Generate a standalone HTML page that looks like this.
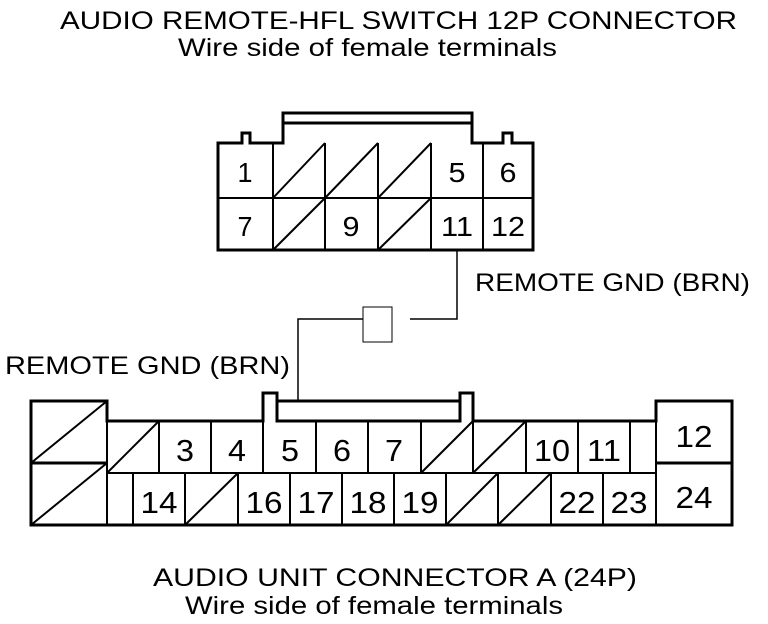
<!DOCTYPE html>
<html><head><meta charset="utf-8"><style>
html,body{margin:0;padding:0;background:#fff;}
svg{display:block;}
text{font-family:"Liberation Sans",Arial,sans-serif;fill:#000;}
</style></head><body>
<svg width="768" height="624" viewBox="0 0 768 624" xmlns="http://www.w3.org/2000/svg">
<g font-size="25">
<text x="60" y="29" textLength="677" lengthAdjust="spacingAndGlyphs">AUDIO REMOTE-HFL SWITCH 12P CONNECTOR</text>
<text x="178" y="56" textLength="379" lengthAdjust="spacingAndGlyphs">Wire side of female terminals</text>
<text x="475" y="291" textLength="275" lengthAdjust="spacingAndGlyphs">REMOTE GND (BRN)</text>
<text x="5" y="374" textLength="285" lengthAdjust="spacingAndGlyphs">REMOTE GND (BRN)</text>
<text x="153" y="586" textLength="484" lengthAdjust="spacingAndGlyphs">AUDIO UNIT CONNECTOR A (24P)</text>
<text x="185" y="614" textLength="378" lengthAdjust="spacingAndGlyphs">Wire side of female terminals</text>
</g>
<g fill="none" stroke="#000" stroke-width="2">
<!-- top connector -->
<path d="M218,143 H242 V133 H250 V143 H283 V113 H472 V143 H503 V133 H512 V143 H533 V250 H218 Z" stroke-width="3"/>
<line x1="283" y1="123" x2="472" y2="123" stroke-width="3"/>
<line x1="218" y1="198" x2="533" y2="198"/>
<line x1="273" y1="143" x2="273" y2="250"/>
<line x1="325" y1="143" x2="325" y2="250"/>
<line x1="378" y1="143" x2="378" y2="250"/>
<line x1="431" y1="143" x2="431" y2="250"/>
<line x1="483" y1="143" x2="483" y2="250"/>
<line x1="273" y1="198" x2="325" y2="143"/>
<line x1="325" y1="198" x2="378" y2="143"/>
<line x1="378" y1="198" x2="431" y2="143"/>
<line x1="273" y1="250" x2="325" y2="198"/>
<line x1="378" y1="250" x2="431" y2="198"/>
<!-- wire -->
<polyline points="457,250 457,319 410,319" stroke-width="1.5"/>
<polyline points="363,319 298,319 298,401" stroke-width="1.5"/>
<rect x="363" y="307" width="29" height="35" stroke-width="1"/>
<!-- bottom connector -->
<path d="M31,401 H107 V421 H263 V393 H277 V421 H460 V393 H473 V421 H656 V401 H732 V525 H31 Z" stroke-width="3"/>
<line x1="277" y1="401" x2="460" y2="401" stroke-width="3"/>
<line x1="31" y1="463" x2="107" y2="463" stroke-width="3"/>
<line x1="656" y1="463" x2="732" y2="463" stroke-width="3"/>
<line x1="107" y1="401" x2="107" y2="525"/>
<line x1="656" y1="401" x2="656" y2="525"/>
<line x1="31" y1="463" x2="107" y2="401"/>
<line x1="31" y1="525" x2="107" y2="463"/>
<line x1="107" y1="473" x2="656" y2="473"/>
<!-- top row -->
<line x1="159" y1="421" x2="159" y2="473"/>
<line x1="211" y1="421" x2="211" y2="473"/>
<line x1="263" y1="421" x2="263" y2="473"/>
<line x1="316" y1="421" x2="316" y2="473"/>
<line x1="368" y1="421" x2="368" y2="473"/>
<line x1="421" y1="421" x2="421" y2="473"/>
<line x1="473" y1="421" x2="473" y2="473"/>
<line x1="526" y1="421" x2="526" y2="473"/>
<line x1="578" y1="421" x2="578" y2="473"/>
<line x1="630" y1="421" x2="630" y2="473"/>
<line x1="107" y1="473" x2="159" y2="421"/>
<line x1="421" y1="473" x2="473" y2="421"/>
<line x1="473" y1="473" x2="526" y2="421"/>
<!-- bottom row -->
<line x1="133" y1="473" x2="133" y2="525"/>
<line x1="185" y1="473" x2="185" y2="525"/>
<line x1="238" y1="473" x2="238" y2="525"/>
<line x1="290" y1="473" x2="290" y2="525"/>
<line x1="342" y1="473" x2="342" y2="525"/>
<line x1="394" y1="473" x2="394" y2="525"/>
<line x1="446" y1="473" x2="446" y2="525"/>
<line x1="498" y1="473" x2="498" y2="525"/>
<line x1="551" y1="473" x2="551" y2="525"/>
<line x1="603" y1="473" x2="603" y2="525"/>
<line x1="185" y1="525" x2="238" y2="473"/>
<line x1="446" y1="525" x2="498" y2="473"/>
<line x1="498" y1="525" x2="551" y2="473"/>
</g>
<g font-size="28" text-anchor="middle">
<text x="245" y="182" textLength="15" lengthAdjust="spacingAndGlyphs">1</text>
<text x="457" y="182" textLength="17" lengthAdjust="spacingAndGlyphs">5</text>
<text x="508" y="182" textLength="17" lengthAdjust="spacingAndGlyphs">6</text>
<text x="245" y="236" textLength="15" lengthAdjust="spacingAndGlyphs">7</text>
<text x="351" y="236" textLength="17" lengthAdjust="spacingAndGlyphs">9</text>
<text x="457" y="236" textLength="32" lengthAdjust="spacingAndGlyphs">11</text>
<text x="508" y="236" textLength="34" lengthAdjust="spacingAndGlyphs">12</text>
</g>
<g font-size="31" text-anchor="middle">
<text x="185" y="461" textLength="18" lengthAdjust="spacingAndGlyphs">3</text>
<text x="237" y="461" textLength="18" lengthAdjust="spacingAndGlyphs">4</text>
<text x="290" y="461" textLength="18" lengthAdjust="spacingAndGlyphs">5</text>
<text x="342" y="461" textLength="18" lengthAdjust="spacingAndGlyphs">6</text>
<text x="394" y="461" textLength="18" lengthAdjust="spacingAndGlyphs">7</text>
<text x="552" y="461" textLength="36" lengthAdjust="spacingAndGlyphs">10</text>
<text x="604" y="461" textLength="34" lengthAdjust="spacingAndGlyphs">11</text>
<text x="694" y="447" textLength="37" lengthAdjust="spacingAndGlyphs">12</text>
<text x="159" y="513" textLength="37" lengthAdjust="spacingAndGlyphs">14</text>
<text x="264" y="513" textLength="37" lengthAdjust="spacingAndGlyphs">16</text>
<text x="316" y="513" textLength="37" lengthAdjust="spacingAndGlyphs">17</text>
<text x="368" y="513" textLength="37" lengthAdjust="spacingAndGlyphs">18</text>
<text x="420" y="513" textLength="37" lengthAdjust="spacingAndGlyphs">19</text>
<text x="577" y="513" textLength="37" lengthAdjust="spacingAndGlyphs">22</text>
<text x="629" y="513" textLength="37" lengthAdjust="spacingAndGlyphs">23</text>
<text x="694" y="508" textLength="37" lengthAdjust="spacingAndGlyphs">24</text>
</g>
</svg>
</body></html>
